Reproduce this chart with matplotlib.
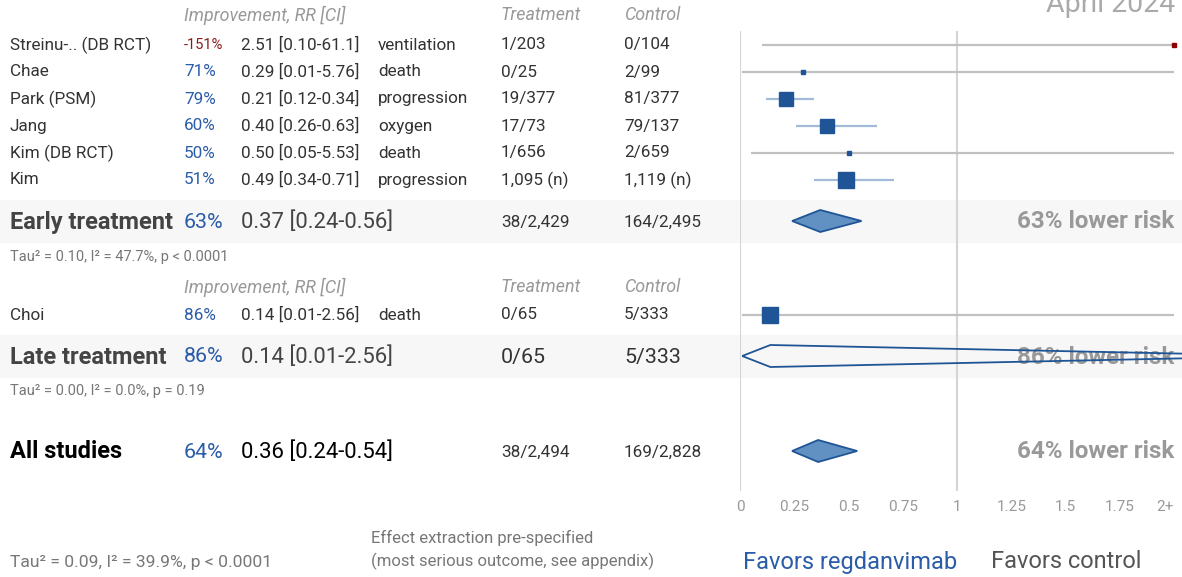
import matplotlib
matplotlib.use("Agg")
from matplotlib import pyplot as plt
from matplotlib.patches import Polygon, Rectangle

plt.rcParams["font.family"] = ["Roboto", "DejaVu Sans"]

studies = ["Streinu-.. (DB RCT)", "Chae", "Park (PSM)", "Jang", "Kim (DB RCT)", "Kim"]
improve = ["-151%", "71%", "79%", "60%", "50%", "51%"]
rr = [2.51, 0.29, 0.21, 0.40, 0.50, 0.49]
lo = [0.10, 0.01, 0.12, 0.26, 0.05, 0.34]
hi = [61.1, 5.76, 0.34, 0.63, 5.53, 0.71]
rr_txt = ["2.51 [0.10-61.1]", "0.29 [0.01-5.76]", "0.21 [0.12-0.34]",
          "0.40 [0.26-0.63]", "0.50 [0.05-5.53]", "0.49 [0.34-0.71]"]
outcome = ["ventilation", "death", "progression", "oxygen", "death", "progression"]
treat = ["1/203", "0/25", "19/377", "17/73", "1/656", "1,095 (n)"]
ctrl = ["0/104", "2/99", "81/377", "79/137", "2/659", "1,119 (n)"]
msize = [3, 3.5, 10, 10, 3.5, 11.5]

late_study = "Choi"
late_imp = "86%"
late_rr, late_lo, late_hi = 0.14, 0.01, 2.56
late_txt = "0.14 [0.01-2.56]"
late_outcome = "death"
late_treat, late_ctrl = "0/65", "5/333"

summ_name = ["Early treatment", "Late treatment", "All studies"]
summ_imp = ["63%", "86%", "64%"]
summ_rr = [0.37, 0.14, 0.36]
summ_lo = [0.24, 0.01, 0.24]
summ_hi = [0.56, 2.56, 0.54]
summ_txt = ["0.37 [0.24-0.56]", "0.14 [0.01-2.56]", "0.36 [0.24-0.54]"]
summ_treat = ["38/2,429", "0/65", "38/2,494"]
summ_ctrl = ["164/2,495", "5/333", "169/2,828"]
summ_het = ["Tau² = 0.10, I² = 47.7%, p < 0.0001",
            "Tau² = 0.00, I² = 0.0%, p = 0.19",
            "Tau² = 0.09, I² = 39.9%, p < 0.0001"]

ticks = [0, 0.25, 0.5, 0.75, 1, 1.25, 1.5, 1.75, 2]
tick_labels = ["0", "0.25", "0.5", "0.75", "1", "1.25", "1.5", "1.75", "2+"]

BLUE = "#2a5ca8"
GREY = "#999999"
DARK = "#333333"

W, H = 1182, 577
fig = plt.figure(figsize=(W / 100, H / 100), dpi=100)
ax = fig.add_axes([0, 0, 1, 1])
ax.set_xlim(0, W)
ax.set_ylim(H, 0)
ax.axis("off")

fx = fig.add_axes([740 / W, 0, (1174 - 740) / W, 1])
fx.set_xlim(0, 2)
fx.set_ylim(H, 0)
fx.axis("off")

# summary bands
for yb in [200, 335]:
    ax.add_patch(Rectangle((0, yb), W, 42, color="#f7f7f7", zorder=0))

col_imp, col_rr, col_out, col_t, col_c = 184, 241, 378, 501, 624
FS = 12.3


def header(y):
    kw = dict(color=GREY, fontsize=12.9, style="italic", va="center")
    ax.text(col_imp, y, "Improvement, RR [CI]", **kw)
    ax.text(col_t, y, "Treatment", **kw)
    ax.text(col_c, y, "Control", **kw)


def study_row(y, name, imp, txt, out, t, c):
    kw = dict(fontsize=FS, va="center", color=DARK)
    ax.text(10, y, name, **kw)
    if imp.startswith("-"):
        ax.text(col_imp, y, imp, fontsize=10.5, va="center", color="#8b1a1a")
    else:
        ax.text(col_imp, y, imp, fontsize=FS, va="center", color=BLUE)
    ax.text(col_rr, y, txt, **kw)
    ax.text(col_out, y, out, **kw)
    ax.text(col_t, y, t, **kw)
    ax.text(col_c, y, c, **kw)


def forest_point(y, r, l, h, ms):
    col = "#c0c0c0" if h > 2 else "#a3bbd9"
    fx.plot([l, min(h, 2)], [y, y], color=col, lw=1.6, zorder=2, solid_capstyle="butt")
    mc = "#8b0000" if r > 1 else "#1f5596"
    fx.plot([min(r, 2)], [y], marker="s", ms=ms, color=mc, zorder=3, clip_on=False)


def diamond(y, r, l, h, fill):
    poly = Polygon([(l, y), (r, y - 11), (h, y), (r, y + 11)], closed=True,
                   facecolor=fill, edgecolor="#1f5596", lw=1.3, zorder=3, clip_on=False)
    fx.add_patch(poly)


# axis lines
for v in [0, 1]:
    fx.plot([v, v], [32, 490], color="#d4d4d4", lw=1.5, zorder=1)

header(15)
ys = [45, 72, 99, 126, 153, 180]
for i, y in enumerate(ys):
    study_row(y, studies[i], improve[i], rr_txt[i], outcome[i], treat[i], ctrl[i])
    forest_point(y, rr[i], lo[i], hi[i], msize[i])

header(287)
study_row(315, late_study, late_imp, late_txt, late_outcome, late_treat, late_ctrl)
forest_point(315, late_rr, late_lo, late_hi, 11.5)

summ_y = [221, 356, 451]
summ_col = ["#444444", "#444444", "black"]
fills = ["#6190c2", "none", "#6190c2"]
for i, y in enumerate(summ_y):
    ax.text(10, y + 1, summ_name[i], fontsize=17, weight="bold", va="center", color=summ_col[i])
    ax.text(col_imp, y + 1, summ_imp[i], fontsize=15.4, va="center", color=BLUE)
    ax.text(col_rr, y + 1, summ_txt[i], fontsize=15.9, va="center", color=summ_col[i])
    big = 15.4 if i == 1 else FS
    ax.text(col_t, y + 1, summ_treat[i], fontsize=big, va="center", color=DARK)
    ax.text(col_c, y + 1, summ_ctrl[i], fontsize=big, va="center", color=DARK)
    ax.text(1174, y + 1, f"{summ_imp[i]} lower risk", fontsize=17.4, weight="bold",
            ha="right", va="center", color=GREY, zorder=2)
    diamond(y, summ_rr[i], summ_lo[i], summ_hi[i], fills[i])

ax.text(10, 257, summ_het[0], fontsize=10.5, va="center", color="#777777")
ax.text(10, 391, summ_het[1], fontsize=10.5, va="center", color="#777777")
ax.text(10, 562, summ_het[2], fontsize=12.6, va="center", color="#777777")

for t, lab in zip(ticks, tick_labels):
    fx.text(t, 507, lab, fontsize=11, ha="right" if lab == "2+" else "center",
            va="center", color=GREY)

ax.text(371, 538, "Effect extraction pre-specified", fontsize=12, va="center", color="#777777")
ax.text(371, 561, "(most serious outcome, see appendix)", fontsize=12, va="center", color="#777777")
ax.text(743, 562, "Favors regdanvimab", fontsize=17, va="center", color=BLUE)
ax.text(991, 562, "Favors control", fontsize=17, va="center", color="#555555")

ax.text(1175, 5, "April 2024", fontsize=20.5, ha="right", va="center", color="#aaaaaa")

fig.savefig("out.png", dpi=100)
